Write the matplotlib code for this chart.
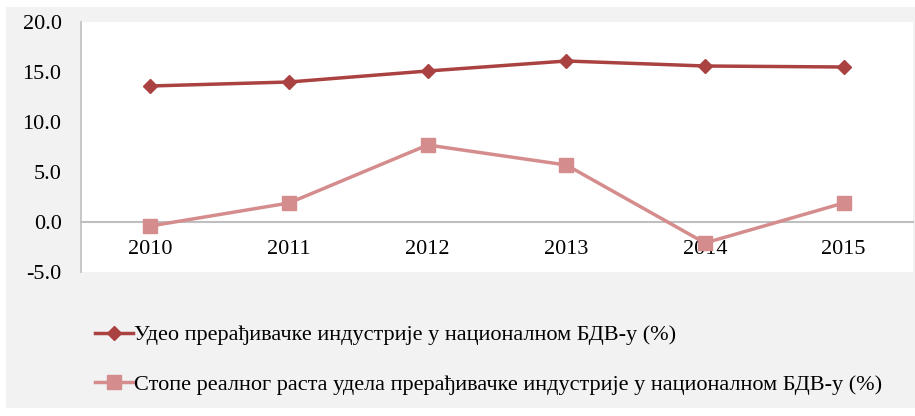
import matplotlib.pyplot as plt
from matplotlib.patches import Rectangle

godine = ['2010', '2011', '2012', '2013', '2014', '2015']
udeo = [13.6, 14.0, 15.1, 16.1, 15.6, 15.5]
stope_rasta = [-0.4, 1.9, 7.7, 5.7, -2.1, 1.9]

naziv_udeo = 'Удео прерађивачке индустрије у националном БДВ-у (%)'
naziv_stope = 'Стопе реалног раста удела прерађивачке индустрије у националном БДВ-у (%)'

plt.rcParams['font.family'] = ['Liberation Serif', 'DejaVu Serif']

fig = plt.figure(figsize=(9.15, 4.16), dpi=100)
fig.patch.set_facecolor('white')
# siva pozadina grafikona
fig.patches.append(Rectangle((6 / 915, 8 / 416), 1 - 6 / 915, 1 - 15 / 416,
                             transform=fig.transFigure, facecolor='#f2f2f2',
                             edgecolor='none', zorder=-10))

ax = fig.add_axes([81 / 915, 1 - 272 / 416, 832 / 915, 250 / 416])
ax.set_facecolor('white')

x = range(len(godine))
ax.plot(x, udeo, color='#a94240', lw=2.5, marker='D', ms=7.5,
        label=naziv_udeo, zorder=3)
ax.plot(x, stope_rasta, color='#d48d8c', lw=2.5, marker='s', ms=10,
        label=naziv_stope, zorder=3)

ax.set_xlim(-0.5, len(godine) - 0.5)
ax.set_ylim(-5, 20)
ax.set_yticks([-5, 0, 5, 10, 15, 20])
ax.set_yticklabels(['%.1f' % v for v in [-5, 0, 5, 10, 15, 20]])
ax.set_xticks(list(x))
ax.set_xticklabels(godine)

for s in ['top', 'right']:
    ax.spines[s].set_visible(False)
ax.spines['left'].set_color('#bfbfbf')
ax.spines['bottom'].set_color('#bfbfbf')
ax.spines['bottom'].set_position(('data', 0))
ax.spines['left'].set_linewidth(1.2)
ax.spines['bottom'].set_linewidth(1.5)

ax.tick_params(axis='both', length=0, labelsize=16)
ax.tick_params(axis='y', pad=14)
ax.tick_params(axis='x', pad=13)

fig.legend(loc='upper left', bbox_to_anchor=(86 / 915, 1 - 316 / 416),
           frameon=False, fontsize=16, handlelength=1.7, handletextpad=0.05,
           labelspacing=1.29, borderaxespad=0)

plt.savefig('out.png', dpi=100)
